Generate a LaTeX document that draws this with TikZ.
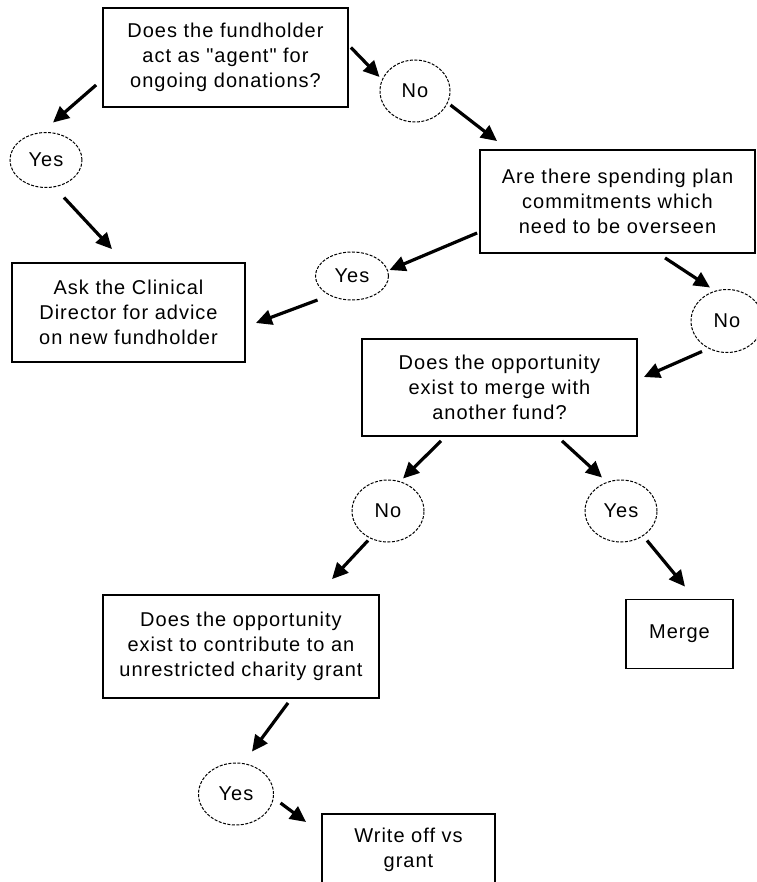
\documentclass[tikz,border=0pt]{standalone}
\usepackage{fontspec}
\newfontfamily\chartfont{Liberation Sans}[LetterSpace=5]
\usepackage{tikz}
\usetikzlibrary{arrows.meta,calc,shapes.geometric}

\begin{document}
\begin{tikzpicture}[x=1pt,y=-1pt,
  font={\chartfont\fontsize{20}{25}\selectfont},
  qbox/.style={draw, line width=1.8pt, align=center, inner sep=0pt},
  ans/.style={draw, ellipse, inner sep=0pt, line width=1pt, dash pattern=on 3pt off 1.5pt},
  arr/.style={-{Triangle[length=16pt,width=15pt]}, line width=3.2pt}]
\useasboundingbox (0,0) rectangle (756,882);
% question and outcome boxes
\node[qbox, minimum width=245, minimum height=99] (agent) at (225.5,57.5)
  {Does the fundholder\\act as "agent" for\\ongoing donations?};
\node[qbox, minimum width=233, minimum height=99] (advice) at (128.5,312.5)
  {Ask the Clinical\\Director for advice\\on new fundholder};
\node[qbox, minimum width=275, minimum height=103] (plan) at (617.5,201.5)
  {Are there spending plan\\commitments which\\need to be overseen};
\node[qbox, minimum width=275, minimum height=97] (merge?) at (499.5,387.5)
  {Does the opportunity\\exist to merge with\\another fund?};
\node[qbox, minimum width=107, minimum height=69] (merge) at (679.5,634) {Merge};
\node[qbox, minimum width=276, minimum height=103] (grant?) at (241,646.5)
  {Does the opportunity\\exist to contribute to an\\unrestricted charity grant};
\node[qbox, minimum width=173, anchor=north, inner ysep=14pt, text depth=60pt] (writeoff) at (408.5,813)
  {Write off vs\\grant};
% yes / no answers
\node[ans, minimum width=72, minimum height=55] (yes1) at (46,160) {Yes};
\node[ans, minimum width=70, minimum height=62] (no1) at (415,91) {No};
\node[ans, minimum width=73, minimum height=48] (yes2) at (352,276) {Yes};
\node[ans, minimum width=72, minimum height=63] (no2) at (727,321) {No};
\node[ans, minimum width=72, minimum height=62] (no3) at (388,511) {No};
\node[ans, minimum width=72, minimum height=62] (yes3) at (621,511) {Yes};
\node[ans, minimum width=75, minimum height=62] (yes4) at (236,794) {Yes};
% arrows
\draw[arr] ($(agent.east)+(2,-10)$) -- ($(no1.west)+(0,-14)$);
\draw[arr] ($(agent.west)+(-6,27.5)$) -- ($(yes1.north)+(7,-9.5)$);
\draw[arr] ($(yes1.south)+(18,9.5)$) -- ($(advice.north)+(-16.5,-13)$);
\draw[arr] ($(no1.east)+(0,14)$) -- ($(plan.north west)+(18,-8)$);
\draw[arr] ($(plan.west)+(-2,31.5)$) -- ($(yes2.east)+(0.5,-6)$);
\draw[arr] ($(yes2.west)+(2.5,24)$) -- ($(advice.east)+(10,10.5)$);
\draw[arr] ($(plan.south)+(47.5,4)$) -- ($(no2.north)+(-17,-1.5)$);
\draw[arr] ($(no2.south)+(-25,-1.5)$) -- ($(merge?.east)+(6,-10.5)$);
\draw[arr] ($(merge?.south)+(-58.5,4)$) -- ($(no3.north)+(15,-1)$);
\draw[arr] ($(merge?.south)+(62.5,4)$) -- ($(yes3.north)+(-19,-2)$);
\draw[arr] ($(yes3.south)+(26,-2)$) -- ($(merge.north)+(5.5,-12)$);
\draw[arr] ($(no3.south)+(-20,-2)$) -- ($(grant?.north)+(91,-15)$);
\draw[arr] ($(grant?.south)+(47,4)$) -- ($(yes4.north)+(16,-11)$);
\draw[arr] ($(yes4.east)+(6.5,9)$) -- ($(writeoff.north west)+(-15,9)$);
\end{tikzpicture}
\end{document}
